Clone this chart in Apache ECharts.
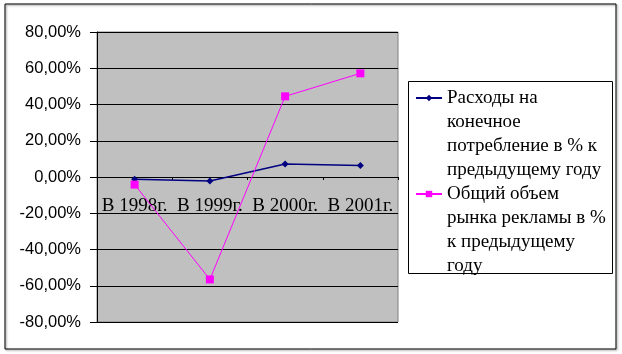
<!DOCTYPE html>
<html>
<head>
<meta charset="utf-8">
<script src="https://cdn.jsdelivr.net/npm/echarts@6/dist/echarts.min.js"></script>
<style>
  html, body { margin: 0; padding: 0; background: #fff; }
  #chart { width: 622px; height: 354px; }
</style>
</head>
<body>
<div id="chart"></div>
<script>
// data
const years = ['В 1998г.', 'В 1999г.', 'В 2000г.', 'В 2001г.'];
const consumption = [-1.2, -2.2, 7.2, 6.3];
const adMarket = [-4.2, -56.5, 44.5, 57.2];
const seriesNames = [
    'Расходы на\nконечное\nпотребление в % к\nпредыдущему году',
    'Общий объем\nрынка рекламы в %\nк предыдущему\nгоду'
];

const chart = echarts.init(document.getElementById('chart'));

function pct(v) {
    return v.toFixed(2).replace('.', ',') + '%';
}

const option = {
    animation: false,
    backgroundColor: '#fff',
    grid: {
        left: 97, top: 32, width: 301, height: 290,
        show: true,
        backgroundColor: '#c0c0c0',
        borderColor: '#808080',
        borderWidth: 1
    },
    legend: {
        orient: 'vertical',
        left: 415,
        top: 14,
        padding: 0,
        itemGap: -72,
        itemWidth: 26,
        itemHeight: 8,
        // blank lines on top so the icon sits next to the first line
        formatter: name => '\n\n\n' + name,
        textStyle: {
            fontFamily: 'Liberation Serif',
            fontSize: 19,
            lineHeight: 24,
            color: '#000'
        },
        data: seriesNames
    },
    xAxis: {
        type: 'category',
        data: years,
        boundaryGap: true,
        position: 'bottom',
        offset: -145,
        axisLine: { onZero: false, lineStyle: { color: '#000', width: 1 } },
        axisTick: { show: true, length: 3, lineStyle: { color: '#000' } },
        axisLabel: {
            interval: 0,
            margin: 20,
            fontFamily: 'Liberation Serif',
            fontSize: 19,
            color: '#000'
        },
        splitLine: { show: false }
    },
    yAxis: {
        type: 'value',
        min: -80,
        max: 80,
        interval: 20,
        axisLine: { show: true, lineStyle: { color: '#000', width: 1 } },
        axisTick: { show: true, length: 7, lineStyle: { color: '#000' } },
        axisLabel: {
            margin: 16,
            fontFamily: 'Liberation Sans',
            fontSize: 16.5,
            color: '#000',
            formatter: pct
        },
        splitLine: { show: true, lineStyle: { color: '#000', width: 1 } }
    },
    series: [
        {
            name: seriesNames[0],
            type: 'line',
            data: consumption,
            symbol: 'diamond',
            symbolSize: 7,
            lineStyle: { color: '#000080', width: 1.5 },
            itemStyle: { color: '#000080' }
        },
        {
            name: seriesNames[1],
            type: 'line',
            data: adMarket,
            symbol: 'rect',
            symbolSize: 8,
            lineStyle: { color: '#ff00ff', width: 1 },
            itemStyle: { color: '#ff00ff' }
        }
    ],
    graphic: [
        {
            type: 'rect',
            shape: { x: 5, y: 4, width: 611, height: 345 },
            style: { fill: 'none', stroke: '#000', lineWidth: 1, shadowColor: 'rgba(0,0,0,0.5)', shadowBlur: 2, shadowOffsetX: 1, shadowOffsetY: 1 },
            silent: true
        },
        {
            type: 'rect',
            shape: { x: 408.5, y: 81.5, width: 204, height: 192 },
            style: { fill: 'none', stroke: '#000', lineWidth: 1 },
            silent: true
        }
    ]
};

chart.setOption(option);
</script>
</body>
</html>
